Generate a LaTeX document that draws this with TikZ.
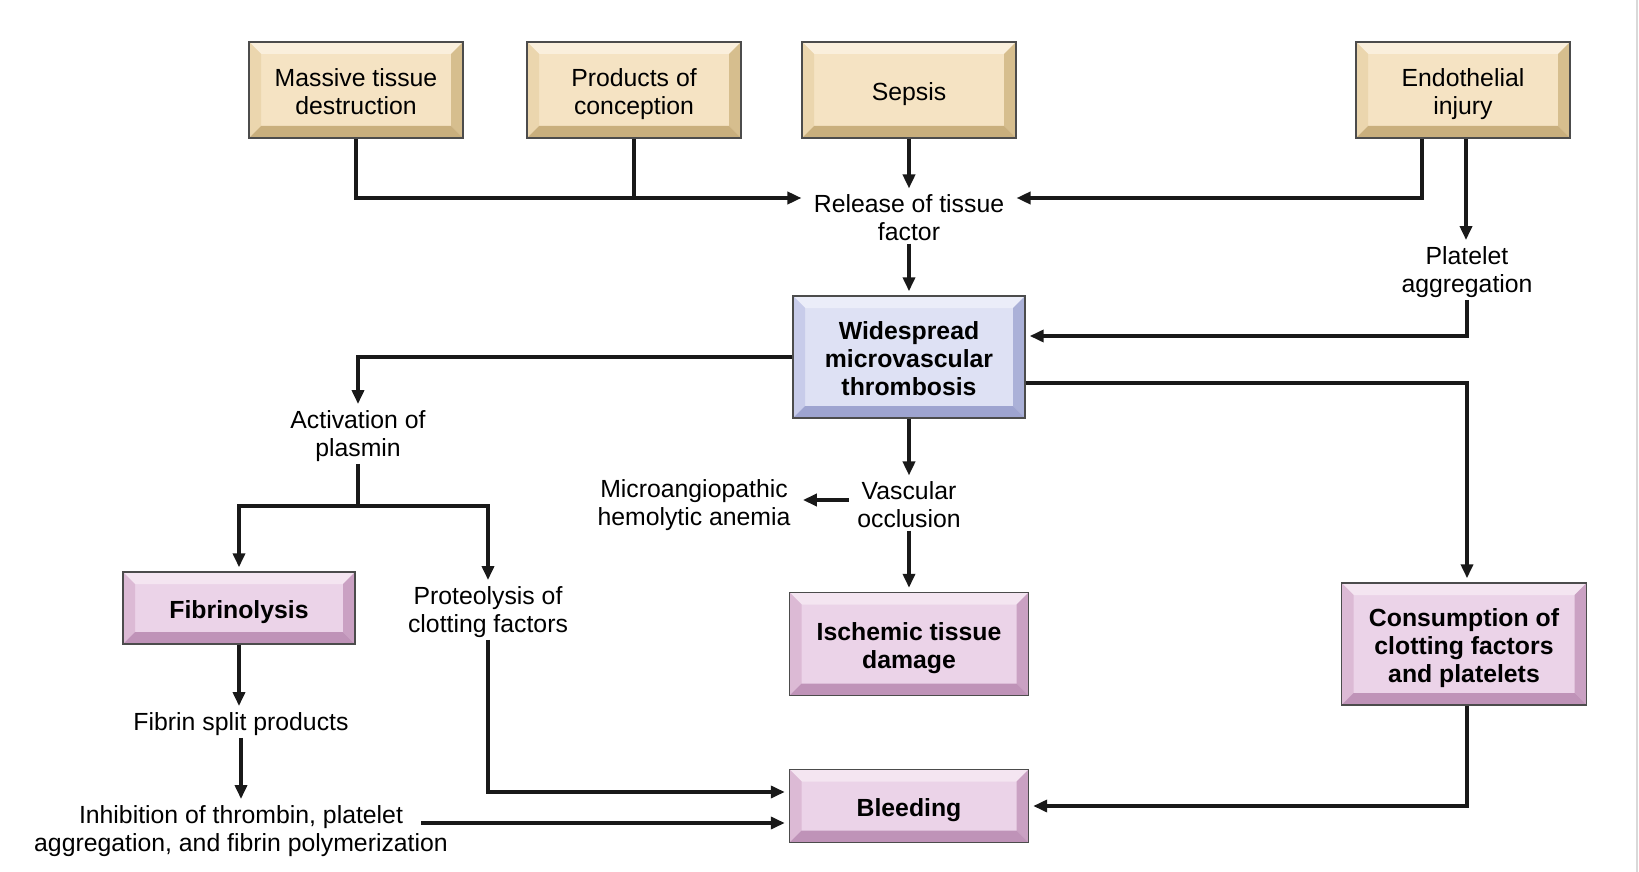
\documentclass[tikz,border=0pt]{standalone}
\usepackage{fontspec}
\setmainfont{Liberation Sans}
\usetikzlibrary{arrows.meta}

\definecolor{tanface}{HTML}{F5E3C3}
\definecolor{tantop}{HTML}{FAEFDC}
\definecolor{tanleft}{HTML}{EBD6AE}
\definecolor{tanright}{HTML}{D6BE8E}
\definecolor{tanbottom}{HTML}{C9AF7D}
\definecolor{blueface}{HTML}{DEE1F4}
\definecolor{bluetop}{HTML}{EBEDF9}
\definecolor{blueleft}{HTML}{C8CCEA}
\definecolor{blueright}{HTML}{ABB1D8}
\definecolor{bluebottom}{HTML}{9EA4D0}
\definecolor{pinkface}{HTML}{EBD3E8}
\definecolor{pinktop}{HTML}{F4E5F1}
\definecolor{pinkleft}{HTML}{DCBAD5}
\definecolor{pinkright}{HTML}{CAA1C3}
\definecolor{pinkbottom}{HTML}{BF93B8}

% same top and bottom for every box text
\newcommand{\bevtext}[1]{\rule{0pt}{13.3pt}#1\rule[-3pt]{0pt}{3pt}}

\begin{document}
\begin{tikzpicture}[x=0.5pt, y=-0.5pt, >={Triangle[length=7pt,width=6pt]},
    every node/.style={font=\fontsize{12.4pt}{14pt}\selectfont},
    bevel/.style n args={5}{draw=black!70, line width=0.7pt, fill=#1, align=center,
      path picture={
        \coordinate (pNW) at (path picture bounding box.north west);
        \coordinate (pNE) at (path picture bounding box.north east);
        \coordinate (pSW) at (path picture bounding box.south west);
        \coordinate (pSE) at (path picture bounding box.south east);
        \fill[#2] (pNW) -- (pNE) -- ([shift={(-6pt,-6pt)}]pNE) -- ([shift={(6pt,-6pt)}]pNW) -- cycle;
        \fill[#3] (pNW) -- (pSW) -- ([shift={(6pt,6pt)}]pSW) -- ([shift={(6pt,-6pt)}]pNW) -- cycle;
        \fill[#4] (pNE) -- (pSE) -- ([shift={(-6pt,6pt)}]pSE) -- ([shift={(-6pt,-6pt)}]pNE) -- cycle;
        \fill[#5] (pSW) -- (pSE) -- ([shift={(-6pt,6pt)}]pSE) -- ([shift={(6pt,6pt)}]pSW) -- cycle;
      }},
    tanbox/.style={bevel={tanface}{tantop}{tanleft}{tanright}{tanbottom},
      minimum width=107pt, minimum height=48pt},
    bluebox/.style={bevel={blueface}{bluetop}{blueleft}{blueright}{bluebottom},
      font=\fontsize{12.4pt}{14pt}\selectfont\bfseries},
    pinkbox/.style={bevel={pinkface}{pinktop}{pinkleft}{pinkright}{pinkbottom},
      font=\fontsize{12.4pt}{14pt}\selectfont\bfseries},
    txt/.style={align=center, inner xsep=4pt, inner ysep=1pt},
    link/.style={line width=1.8pt, black!90},
    arrow/.style={link, ->, shorten >=2pt}]

  \fill[white] (0,0) rectangle (1639,872);
  \useasboundingbox (0,0) rectangle (1639,872);
  \draw[black!15, line width=1pt] (1637,0) -- (1637,872);

  % causes
  \node (mtd) at (356,90) [tanbox] {\bevtext{Massive tissue\\destruction}};
  \node (poc) at (634,90) [tanbox] {\bevtext{Products of\\conception}};
  \node (sep) at (909,90) [tanbox] {\bevtext{Sepsis}};
  \node (endo) at (1463,90) [tanbox] {\bevtext{Endothelial\\injury}};

  \node (rtf) at (909,218) [txt] {Release of tissue\\factor};
  \node (plt) at (1467,272) [txt] {Platelet\\aggregation};

  % central box
  \node (wmt) at (909,357) [bluebox, minimum width=116pt, minimum height=61pt] {\bevtext{Widespread\\microvascular\\thrombosis}};

  \node (act) at (358,436) [txt] {Activation of\\plasmin};
  \node (voc) at (909,505) [txt] {Vascular\\occlusion};
  \node (mha) at (694,505) [txt] {Microangiopathic\\hemolytic anemia};

  % results
  \node (fib) at (239,608) [pinkbox, minimum width=116pt, minimum height=36pt] {\bevtext{Fibrinolysis}};
  \node (pro) at (488,612) [txt] {Proteolysis of\\clotting factors};
  \node (ist) at (909,644) [pinkbox, minimum width=119.5pt, minimum height=51.5pt] {\bevtext{Ischemic tissue\\damage}};
  \node (con) at (1464,644) [pinkbox, minimum width=122.5pt, minimum height=61pt] {\bevtext{Consumption of\\clotting factors\\and platelets}};
  \node (fsp) at (241,724) [txt] {Fibrin split products};
  \node (inh) at (241,831) [txt] {Inhibition of thrombin, platelet\\aggregation, and fibrin polymerization};
  \node (blee) at (909,806) [pinkbox, minimum width=119.5pt, minimum height=36.5pt] {\bevtext{Bleeding}};

  \coordinate (split) at (358,506);

  % connectors
  \draw[arrow] (mtd.south) |- ([yshift=10pt]rtf.west);
  \draw[link] (poc.south) -- (poc.south |- mtd.south |- 0,198);
  \draw[arrow] ([xshift=-20.5pt]endo.south) |- ([yshift=10pt]rtf.east);
  \draw[arrow] (sep.south) -- (rtf.north);
  \draw[arrow] ([xshift=1.5pt]endo.south) -- ([xshift=1.5pt]endo.south |- plt.north);
  \draw[arrow] (rtf.south) -- (wmt.north);
  \draw[arrow] (plt.south) |- ([yshift=10.5pt]wmt.east);
  \draw[arrow] (wmt.west) -| (act.north);
  \draw[arrow] ([yshift=-13pt]wmt.east) -| ([xshift=1.5pt]con.north);
  \draw[arrow] (wmt.south) -- (voc.north);
  \draw[arrow] ([yshift=2.5pt]voc.west) -- ([yshift=2.5pt]mha.east);
  \draw[arrow] (voc.south) -- (ist.north);
  \draw[link] (act.south) -- (split);
  \draw[arrow] (split) -| (fib.north);
  \draw[arrow] (split) -| (pro.north);
  \draw[arrow] (fib.south) -- (fib.south |- fsp.north);
  \draw[arrow] (fsp.south) -- (inh.north);
  \draw[arrow] ([shift={(90pt,4pt)}]inh.center) -- ([yshift=-8.5pt]blee.west);
  \draw[arrow] (pro.south) |- ([yshift=7pt]blee.west);
  \draw[arrow] ([xshift=1.5pt]con.south) |- (blee.east);
\end{tikzpicture}
\end{document}
